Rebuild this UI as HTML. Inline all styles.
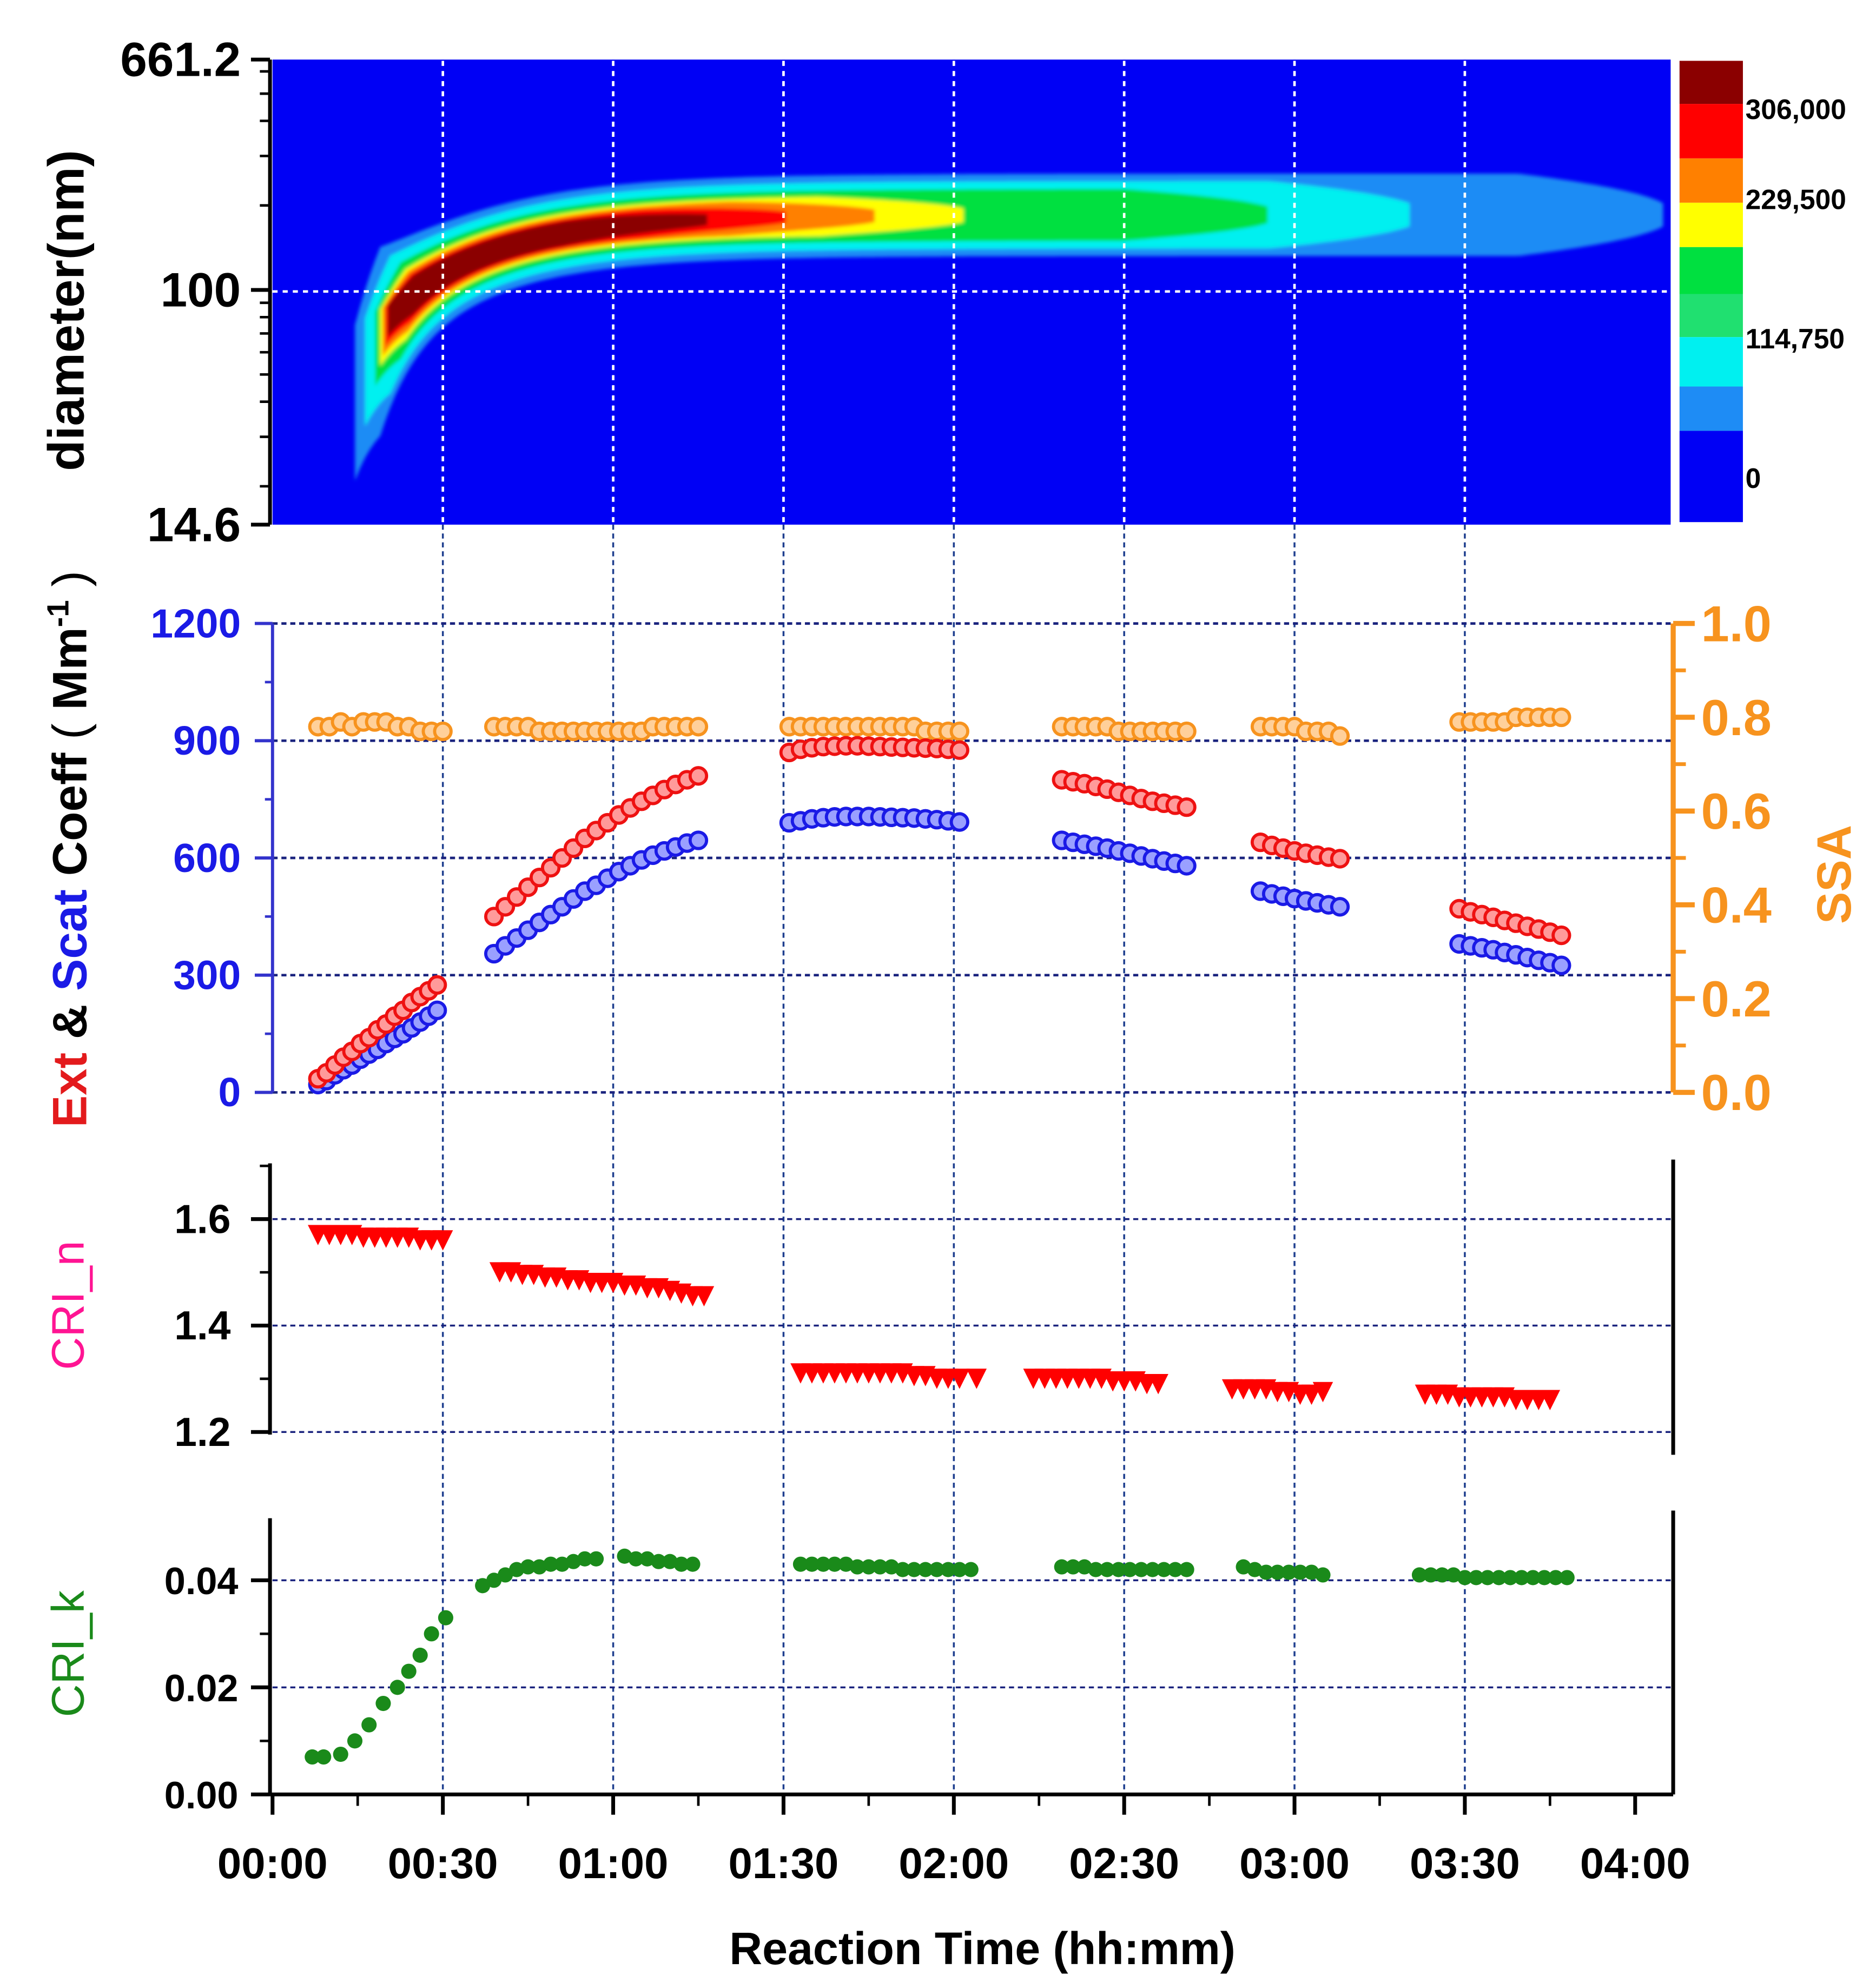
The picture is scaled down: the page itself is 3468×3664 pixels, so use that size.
<!DOCTYPE html>
<html><head><meta charset="utf-8"><style>
html,body{margin:0;padding:0;background:#fff;}
svg{display:block;}
text{font-family:"Liberation Sans",sans-serif;}
</style></head><body>
<svg id="chart" width="3468" height="3664" viewBox="0 0 1480 1564" preserveAspectRatio="none" xmlns="http://www.w3.org/2000/svg">
<defs><filter id="bl" x="-5%" y="-20%" width="110%" height="140%"><feGaussianBlur stdDeviation="1.5"/></filter></defs>
<g id="heat"></g>
<g id="grid"></g>
<g id="axes"></g>
<g id="marks"></g>
</svg>
<script>
// ---- data ----
const ssaT=[[8,10,12,14,16,18,20,22,24,26,28,30],[39,41,43,45,47,49,51,53,55,57,59,61,63,65,67,69,71,73,75],[91,93,95,97,99,101,103,105,107,109,111,113,115,117,119,121],[139,141,143,145,147,149,151,153,155,157,159,161],[174,176,178,180,182,184,186,188],[209,211,213,215,217,219,221,223,225,227]];
const ssaV=[[0.78,0.78,0.79,0.78,0.79,0.79,0.79,0.78,0.78,0.77,0.77,0.77],[0.78,0.78,0.78,0.78,0.77,0.77,0.77,0.77,0.77,0.77,0.77,0.77,0.77,0.77,0.78,0.78,0.78,0.78,0.78],[0.78,0.78,0.78,0.78,0.78,0.78,0.78,0.78,0.78,0.78,0.78,0.78,0.77,0.77,0.77,0.77],[0.78,0.78,0.78,0.78,0.78,0.77,0.77,0.77,0.77,0.77,0.77,0.77],[0.78,0.78,0.78,0.78,0.77,0.77,0.77,0.76],[0.79,0.79,0.79,0.79,0.79,0.80,0.80,0.80,0.80,0.80]];
const extT=[[8,9.5,11,12.5,14,15.5,17,18.5,20,21.5,23,24.5,26,27.5,29],[39,41,43,45,47,49,51,53,55,57,59,61,63,65,67,69,71,73,75],[91,93,95,97,99,101,103,105,107,109,111,113,115,117,119,121],[139,141,143,145,147,149,151,153,155,157,159,161],[174,176,178,180,182,184,186,188],[209,211,213,215,217,219,221,223,225,227]];
const extV=[[35,50,70,90,105,125,140,160,175,195,210,230,245,260,275],[450,475,500,525,550,575,600,625,650,670,690,710,728,745,760,775,788,800,810],[870,878,882,885,886,887,887,886,885,884,883,882,881,880,878,876],[800,795,790,783,776,768,760,752,745,740,735,730],[640,632,625,618,612,607,602,598],[470,462,455,448,440,433,425,418,410,402]];
const scaT=[[8,9.5,11,12.5,14,15.5,17,18.5,20,21.5,23,24.5,26,27.5,29],[39,41,43,45,47,49,51,53,55,57,59,61,63,65,67,69,71,73,75],[91,93,95,97,99,101,103,105,107,109,111,113,115,117,119,121],[139,141,143,145,147,149,151,153,155,157,159,161],[174,176,178,180,182,184,186,188],[209,211,213,215,217,219,221,223,225,227]];
const scaV=[[20,30,45,58,70,85,98,110,125,138,150,165,180,195,210],[355,375,395,415,435,455,475,495,515,530,548,565,580,595,607,618,628,638,645],[690,695,700,703,705,706,706,706,705,704,703,702,700,698,695,692],[645,640,635,630,625,618,612,605,598,592,586,580],[515,508,502,496,490,485,480,475],[380,375,370,365,358,352,345,338,332,325]];
const nT=[[8,10,12,14,16,18,20,22,24,26,28,30],[40,42,44,46,48,50,52,54,56,58,60,62,64,66,68,70,72,74,76],[93,95,97,99,101,103,105,107,109,111,113,115,117,119,121,124],[134,136,138,140,142,144,146,148,150,152,154,156],[169,171,173,175,177,179,181,183,185],[203,205,207,209,211,213,215,217,219,221,223,225]];
const nV=[[1.57,1.57,1.57,1.57,1.565,1.565,1.565,1.565,1.565,1.56,1.56,1.56],[1.50,1.50,1.495,1.495,1.49,1.49,1.485,1.485,1.48,1.48,1.48,1.475,1.475,1.47,1.47,1.465,1.46,1.455,1.455],[1.31,1.31,1.31,1.31,1.31,1.31,1.31,1.31,1.31,1.31,1.305,1.305,1.30,1.30,1.30,1.30],[1.30,1.30,1.30,1.30,1.30,1.30,1.30,1.295,1.295,1.295,1.29,1.29],[1.28,1.28,1.28,1.28,1.275,1.275,1.27,1.27,1.275],[1.27,1.27,1.27,1.265,1.265,1.265,1.265,1.265,1.26,1.26,1.26,1.26]];
const kT=[[7,9,12,14.5,17,19.5,22,24,26,28,30.5],[37,39,41,43,45,47,49,51,53,55,57],[62,64,66,68,70,72,74],[93,95,97,99,101,103,105,107,109,111,113,115,117,119,121,123],[139,141,143,145,147,149,151,153,155,157,159,161],[171,173,175,177,179,181,183,185],[202,204,206,208,210,212,214,216,218,220,222,224,226,228]];
const kV=[[0.007,0.007,0.0075,0.010,0.013,0.017,0.020,0.023,0.026,0.030,0.033],[0.039,0.040,0.041,0.042,0.0425,0.0425,0.043,0.043,0.0435,0.044,0.044],[0.0445,0.044,0.044,0.0435,0.0435,0.043,0.043],[0.043,0.043,0.043,0.043,0.043,0.0425,0.0425,0.0425,0.0425,0.042,0.042,0.042,0.042,0.042,0.042,0.042],[0.0425,0.0425,0.0425,0.042,0.042,0.042,0.042,0.042,0.042,0.042,0.042,0.042],[0.0425,0.042,0.0415,0.0415,0.0415,0.0415,0.0415,0.041],[0.041,0.041,0.041,0.041,0.0405,0.0405,0.0405,0.0405,0.0405,0.0405,0.0405,0.0405,0.0405,0.0405]];
const timeTicks=["00:00","00:30","01:00","01:30","02:00","02:30","03:00","03:30","04:00"];
const extTicks=[0,300,600,900,1200];
const ssaTicks=[0,0.2,0.4,0.6,0.8,1.0];
const nTicks=[1.2,1.4,1.6];
const kTicks=[0,0.02,0.04];
const cbLabels=["306,000","229,500","114,750","0"];

// ---- scales ----
const NS="http://www.w3.org/2000/svg";
const X=t=>215+t*(1290-215)/240;
const Yext=v=>862-v*(862-492)/1200;
const Yssa=v=>862-v*(862-492)/1.0;
const Yn=v=>1130-(v-1.2)*(1130-962)/0.4;
const Yk=v=>1416-v*(1416-1247)/0.04;
const Yd=d=>47+(Math.log10(661.2)-Math.log10(d))/(Math.log10(661.2)-Math.log10(14.6))*(414-47);
function el(tag,attrs,parent,txt){const e=document.createElementNS(NS,tag);for(const k in attrs)e.setAttribute(k,attrs[k]);if(txt!==undefined)e.textContent=txt;parent.appendChild(e);return e;}
const heat=document.getElementById('heat'),grid=document.getElementById('grid'),axes=document.getElementById('axes'),marks=document.getElementById('marks');

// ---- heatmap ----
el('rect',{x:215,y:47,width:1103,height:367,fill:'#0000f5'},heat);
const c=x=>172+92*Math.exp(-(x-290)/85);
const bands=[
 {col:'#1e8cf5',xs:280,xe:1312,hw:30,tail:90},
 {col:'#00f0f0',xs:288,xe:1115,hw:24,tail:60},
 {col:'#00e040',xs:296,xe:1000,hw:18,tail:40},
 {col:'#ffff00',xs:300,xe:760,hw:13,tail:30},
 {col:'#ff8000',xs:302,xe:690,hw:11,tail:25},
 {col:'#ff0000',xs:304,xe:620,hw:9,tail:20},
 {col:'#8b0000',xs:306,xe:560,hw:7,tail:15}];
const hg=el('g',{filter:'url(#bl)'},heat);
bands.forEach((b,i)=>{
 let top=[],bot=[];
 for(let x=b.xs;x<=b.xe;x+=4){
  const f=Math.min(1,(x-b.xs)/25+0.2)*Math.sqrt(Math.min(1,(b.xe-x)/120+0.05));
  const hw=b.hw*f*(1+0.8*Math.exp(-(x-300)/40));
  top.push([x,c(x)-hw-5]);
  bot.push([x,c(x)+hw+b.tail*Math.exp(-(x-b.xs)/22)]);
 }
 const pts=top.concat(bot.reverse()).map(p=>p[0].toFixed(1)+','+p[1].toFixed(1)).join(' ');
 const p=el('polygon',{points:pts,fill:b.col},hg);
 
 
});
// colorbar
const cb=el('g',{},axes);


[['#8b0000',48,82],['#ff0000',82,125],['#ff8000',125,160],['#ffff00',160,195],['#00e040',195,232],['#20e070',232,266],['#00f0f0',266,305],['#1e8cf5',305,340],['#0000f5',340,412]].forEach(s=>el('rect',{x:1325,y:s[1],width:50,height:s[2]-s[1],fill:s[0]},cb));
[87,158,268,378].forEach((y,i)=>el('text',{x:1377,y:y+7,'font-size':22,'font-family':'Liberation Serif, serif','font-weight':'bold'},cb,cbLabels[i]));

// ---- grid ----
for(let i=1;i<=7;i++){const x=X(i*30);
 el('line',{x1:x,y1:40,x2:x,y2:414,stroke:'#ffffff','stroke-width':2,'stroke-dasharray':'4,4'},grid);
 el('line',{x1:x,y1:414,x2:x,y2:1416,stroke:'#1f3f8f','stroke-width':1.5,'stroke-dasharray':'4,3'},grid);}
el('line',{x1:215,y1:230,x2:1318,y2:230,stroke:'#fff','stroke-width':2,'stroke-dasharray':'4,4'},grid);
extTicks.forEach(v=>el('line',{x1:215,y1:Yext(v),x2:1318,y2:Yext(v),stroke:'#1a237e','stroke-width':2,'stroke-dasharray':'4,3'},grid));
nTicks.forEach(v=>el('line',{x1:215,y1:Yn(v),x2:1318,y2:Yn(v),stroke:'#1a237e','stroke-width':1.5,'stroke-dasharray':'4,3'},grid));
kTicks.slice(1).forEach(v=>el('line',{x1:215,y1:Yk(v),x2:1318,y2:Yk(v),stroke:'#1a237e','stroke-width':1.5,'stroke-dasharray':'4,3'},grid));

// ---- axes ----
el('line',{x1:213,y1:47,x2:213,y2:414,stroke:'#000','stroke-width':3},axes);
[[661.2,'661.2'],[100,'100'],[14.6,'14.6']].forEach(d=>{el('line',{x1:198,y1:Yd(d[0]),x2:213,y2:Yd(d[0]),stroke:'#000','stroke-width':3},axes);
 el('text',{x:190,y:Yd(d[0])+13,'text-anchor':'end','font-size':38,'font-weight':'bold'},axes,d[1]);});
[20,30,40,50,60,70,80,90,200,300,400,500,600].forEach(d=>el('line',{x1:205,y1:Yd(d),x2:213,y2:Yd(d),stroke:'#000','stroke-width':2},axes));
el('text',{transform:'translate(66,245) rotate(-90)','text-anchor':'middle','font-size':40,'font-weight':'bold'},axes,'diameter(nm)');
el('line',{x1:215,y1:492,x2:215,y2:862,stroke:'#3333cc','stroke-width':2.5},axes);
extTicks.forEach(v=>{el('line',{x1:201,y1:Yext(v),x2:215,y2:Yext(v),stroke:'#3333cc','stroke-width':2.5},axes);
 el('text',{x:190,y:Yext(v)+11,'text-anchor':'end','font-size':32,'font-weight':'bold',fill:'#1a1ae6'},axes,String(v));});
[150,450,750,1050].forEach(v=>el('line',{x1:209,y1:Yext(v),x2:215,y2:Yext(v),stroke:'#3333cc','stroke-width':2},axes));
el('line',{x1:1320,y1:492,x2:1320,y2:862,stroke:'#f7931e','stroke-width':4},axes);
ssaTicks.forEach(v=>{el('line',{x1:1320,y1:Yssa(v),x2:1337,y2:Yssa(v),stroke:'#f7931e','stroke-width':4},axes);
 el('text',{x:1342,y:Yssa(v)+14,'font-size':40,'font-weight':'bold',fill:'#f7931e'},axes,v.toFixed(1));});
[0.1,0.3,0.5,0.7,0.9].forEach(v=>el('line',{x1:1320,y1:Yssa(v),x2:1330,y2:Yssa(v),stroke:'#f7931e','stroke-width':3},axes));
el('text',{transform:'translate(1460,690) rotate(-90)','text-anchor':'middle','font-size':38,'font-weight':'bold',fill:'#f7931e'},axes,'SSA');
const yt=el('text',{transform:'translate(68,670) rotate(-90)','text-anchor':'middle','font-size':38,'font-weight':'bold'},axes);
el('tspan',{fill:'#e31a1c'},yt,'Ext ');el('tspan',{fill:'#000'},yt,'& ');el('tspan',{fill:'#1a1ae6'},yt,'Scat ');el('tspan',{fill:'#000'},yt,'Coeff');el('tspan',{fill:'#000','font-weight':'normal'},yt,' ( ');el('tspan',{fill:'#000'},yt,'Mm');el('tspan',{fill:'#000','font-size':24,dy:-14},yt,'-1');el('tspan',{fill:'#000','font-weight':'normal',dy:14},yt,' )');
el('line',{x1:213,y1:918,x2:213,y2:1132,stroke:'#000','stroke-width':3},axes);
el('line',{x1:1320,y1:915,x2:1320,y2:1148,stroke:'#000','stroke-width':3},axes);
nTicks.forEach(v=>{el('line',{x1:198,y1:Yn(v),x2:213,y2:Yn(v),stroke:'#000','stroke-width':3},axes);
 el('text',{x:182,y:Yn(v)+11,'text-anchor':'end','font-size':32,'font-weight':'bold'},axes,v.toFixed(1));});
[1.3,1.5,1.7].forEach(v=>el('line',{x1:205,y1:Yn(v),x2:213,y2:Yn(v),stroke:'#000','stroke-width':2},axes));
el('text',{transform:'translate(66,1030) rotate(-90)','text-anchor':'middle','font-size':36,fill:'#ff1493'},axes,'CRI_n');
el('line',{x1:213,y1:1198,x2:213,y2:1416,stroke:'#000','stroke-width':3},axes);
el('line',{x1:1320,y1:1192,x2:1320,y2:1416,stroke:'#000','stroke-width':3},axes);
el('line',{x1:213,y1:1416,x2:1320,y2:1416,stroke:'#000','stroke-width':3},axes);
kTicks.forEach(v=>{el('line',{x1:198,y1:Yk(v),x2:213,y2:Yk(v),stroke:'#000','stroke-width':3},axes);
 el('text',{x:188,y:Yk(v)+11,'text-anchor':'end','font-size':30,'font-weight':'bold'},axes,v.toFixed(2));});
[0.01,0.03].forEach(v=>el('line',{x1:205,y1:Yk(v),x2:213,y2:Yk(v),stroke:'#000','stroke-width':2},axes));
el('text',{transform:'translate(66,1305) rotate(-90)','text-anchor':'middle','font-size':36,fill:'#1a8a1a'},axes,'CRI_k');
timeTicks.forEach((s,i)=>{const x=X(i*30);el('line',{x1:x,y1:1416,x2:x,y2:1432,stroke:'#000','stroke-width':3},axes);
 el('text',{x:x,y:1482,'text-anchor':'middle','font-size':34,'font-weight':'bold'},axes,s);});
for(let i=0;i<8;i++)el('line',{x1:X(i*30+15),y1:1416,x2:X(i*30+15),y2:1425,stroke:'#000','stroke-width':2},axes);
el('text',{x:775,y:1550,'text-anchor':'middle','font-size':36,'font-weight':'bold'},axes,'Reaction Time (hh:mm)');

// ---- marks ----
function circles(T,V,yf,fill,stroke,name){T.forEach((seg,si)=>seg.forEach((t,i)=>{
 const m=el('circle',{cx:X(t),cy:yf(V[si][i]),r:6.5,fill:fill,stroke:stroke,'stroke-width':2.5},marks);
 
 }));}
circles(ssaT,ssaV,Yssa,'#ffd09a','#f7931e','ssa-point');
circles(scaT,scaV,Yext,'#9aa0ff','#1a1ae6','scat-point');
circles(extT,extV,Yext,'#ff9a9a','#ee1111','ext-point');
nT.forEach((seg,si)=>seg.forEach((t,i)=>{const x=X(t),y=Yn(nV[si][i]);
 const m=el('polygon',{points:`${x-8},${y-8} ${x+8},${y-8} ${x},${y+8}`,fill:'#ff0000'},marks);
 
 }));
kT.forEach((seg,si)=>seg.forEach((t,i)=>{
 const m=el('circle',{cx:X(t),cy:Yk(kV[si][i]),r:6,fill:'#1a8a1a'},marks);
 
 }));
</script>
</body></html>
